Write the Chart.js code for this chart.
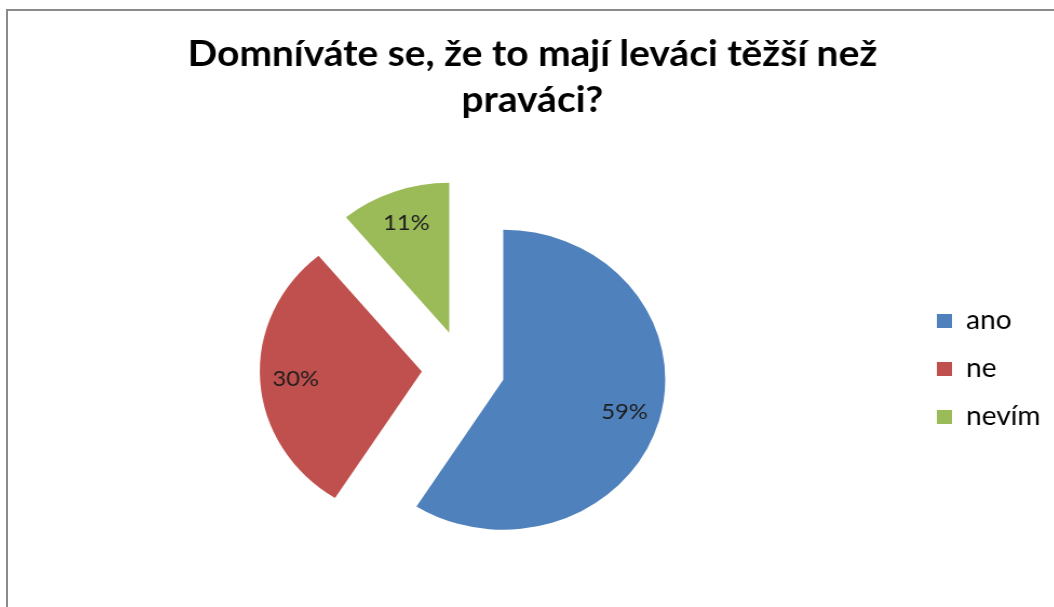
<!DOCTYPE html>
<html>
<head>
<meta charset="utf-8">
<script src="https://cdn.jsdelivr.net/npm/chart.js@4"></script>
<style>
  body { margin: 0; background: #fff; overflow: hidden; width: 1054px; height: 607px; }
  #frame { position: absolute; left: 6px; top: 9px; width: 2000px; height: 2000px;
           border-left: 2px solid #8a8a8a; border-top: 2px solid #8a8a8a; }
  #wrap { position: absolute; left: 7px; top: 0; width: 981px; height: 607px;
          transform: scaleX(1.08); transform-origin: 0 0; }
</style>
</head>
<body>
<div id="frame"></div>
<div id="wrap"><canvas id="chart" width="981" height="607"></canvas></div>
<script>
var titleLines = ['Domníváte se, že to mají leváci těžší než', 'praváci?'];
var categories = ['ano', 'ne', 'nevím'];
var values = [59, 30, 11];
var colors = ['#4F81BD', '#C0504D', '#9BBB59'];

var EXPLODE = 38.5;

// pull every slice out along its bisector
var explodePlugin = {
  id: 'explode',
  afterDatasetsUpdate: function(chart) {
    chart.getDatasetMeta(0).data.forEach(function(arc) {
      var mid = (arc.startAngle + arc.endAngle) / 2;
      arc.x += Math.cos(mid) * EXPLODE;
      arc.y += Math.sin(mid) * EXPLODE;
    });
  }
};

var labelPlugin = {
  id: 'sliceLabels',
  afterDatasetsDraw: function(chart) {
    var ctx = chart.ctx;
    var data = chart.data.datasets[0].data;
    var total = data.reduce(function(a, b) { return a + b; }, 0);
    ctx.save();
    ctx.font = '22px Lato';
    ctx.fillStyle = '#1e1e1e';
    ctx.textAlign = 'center';
    ctx.textBaseline = 'middle';
    chart.getDatasetMeta(0).data.forEach(function(arc, i) {
      var mid = (arc.startAngle + arc.endAngle) / 2;
      var r = arc.outerRadius * 0.78;
      var txt = Math.round(data[i] / total * 100) + '%';
      ctx.fillText(txt, arc.x + Math.cos(mid) * r, arc.y + Math.sin(mid) * r);
    });
    ctx.restore();
  }
};

var chart = new Chart(document.getElementById('chart'), {
  type: 'pie',
  data: {
    labels: categories,
    datasets: [{
      data: values,
      backgroundColor: colors,
      borderWidth: 0,
      radius: 150
    }]
  },
  options: {
    responsive: false,
    animation: false,
    events: [],
    layout: { padding: { left: 6, right: 14, top: 0, bottom: 0 } },
    plugins: {
      title: {
        display: true,
        text: titleLines,
        color: '#000',
        font: { family: 'Lato', size: 36, weight: 'bold', lineHeight: '46px' },
        padding: { top: 31, bottom: 8 }
      },
      legend: {
        position: 'right',
        fullSize: false,
        labels: {
          color: '#000',
          font: { family: 'Lato', size: 26 },
          boxWidth: 14,
          boxHeight: 14,
          padding: 22
        }
      },
      tooltip: { enabled: false }
    }
  },
  plugins: [explodePlugin, labelPlugin]
});
</script>
</body>
</html>
